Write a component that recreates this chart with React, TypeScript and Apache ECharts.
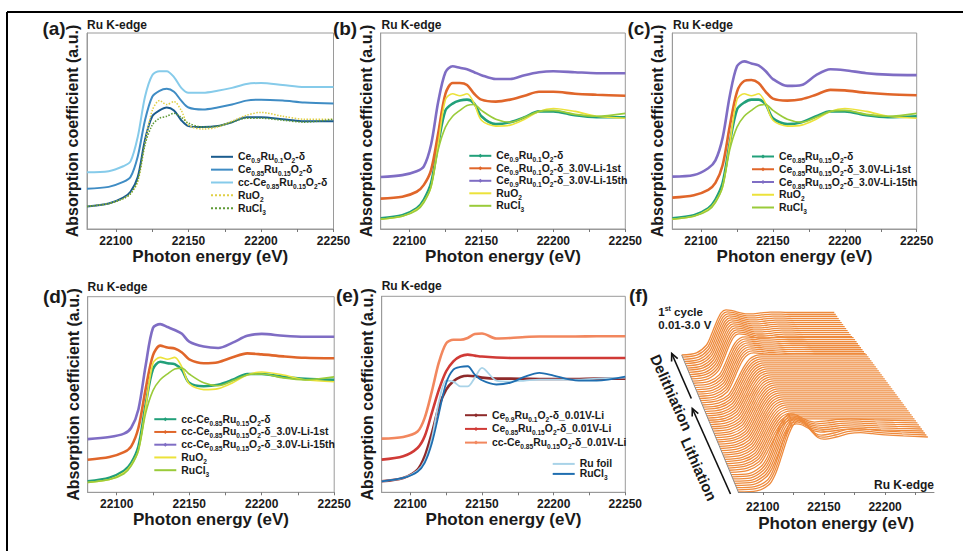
import React, { useEffect, useRef } from "react";
import * as echarts from "echarts";

const FONT = "'Liberation Sans', Arial, Helvetica, sans-serif";
const INK = "#1a1a1a";
const FRAME = "#9a9a9a";

// ---------- shared energy grid (eV) at which the spectra were read ----------
const ENERGY = [22080, 22095, 22105, 22110, 22115, 22120, 22125, 22130, 22135, 22140, 22145, 22150, 22160, 22170, 22180, 22190, 22200, 22215, 22230, 22250];
const X_TICKS = [22100, 22125, 22150, 22175, 22200, 22225, 22250];
const X_LABELS = [22100, 22150, 22200, 22250];

// ---------- (a) ----------
const A_CE09 = [0.23, 0.26, 0.32, 0.38, 0.53, 0.91, 1.15, 1.21, 1.24, 1.21, 1.11, 1.05, 1.04, 1.05, 1.09, 1.14, 1.14, 1.12, 1.10, 1.10];
const A_CE085 = [0.41, 0.43, 0.48, 0.53, 0.74, 1.11, 1.35, 1.41, 1.43, 1.40, 1.31, 1.24, 1.22, 1.24, 1.27, 1.31, 1.32, 1.31, 1.29, 1.28];
const A_CC = [0.58, 0.59, 0.64, 0.69, 0.94, 1.35, 1.57, 1.61, 1.61, 1.55, 1.44, 1.39, 1.39, 1.41, 1.44, 1.48, 1.49, 1.47, 1.45, 1.45];
const A_RUO2 = [0.23, 0.26, 0.31, 0.36, 0.48, 0.87, 1.21, 1.31, 1.27, 1.30, 1.21, 1.06, 1.02, 1.04, 1.10, 1.16, 1.19, 1.15, 1.12, 1.12];
const A_RUCL3 = [0.23, 0.26, 0.31, 0.36, 0.50, 0.86, 1.06, 1.13, 1.15, 1.18, 1.14, 1.08, 1.04, 1.05, 1.09, 1.13, 1.13, 1.11, 1.09, 1.12];

// ---------- references used in (b), (c), (d) ----------
const REF_RUO2 = [0.10, 0.13, 0.20, 0.28, 0.43, 0.87, 1.32, 1.38, 1.36, 1.38, 1.28, 1.11, 1.05, 1.06, 1.12, 1.20, 1.23, 1.20, 1.15, 1.13];
const REF_RUCL3 = [0.10, 0.13, 0.19, 0.27, 0.43, 0.81, 1.04, 1.15, 1.21, 1.26, 1.27, 1.21, 1.12, 1.09, 1.14, 1.20, 1.21, 1.17, 1.15, 1.18];

// ---------- (b) ----------
const B_PRISTINE = [0.11, 0.14, 0.21, 0.30, 0.47, 0.87, 1.21, 1.28, 1.31, 1.32, 1.28, 1.15, 1.07, 1.09, 1.14, 1.20, 1.20, 1.16, 1.14, 1.14];
const B_LI_1ST = [0.31, 0.33, 0.38, 0.45, 0.60, 0.98, 1.38, 1.49, 1.49, 1.47, 1.38, 1.32, 1.30, 1.32, 1.36, 1.40, 1.40, 1.38, 1.37, 1.36];
const B_LI_15TH = [0.53, 0.55, 0.59, 0.64, 0.86, 1.30, 1.60, 1.66, 1.645, 1.63, 1.60, 1.57, 1.53, 1.53, 1.57, 1.60, 1.61, 1.60, 1.59, 1.59];

// ---------- (c) ----------
const C_PRISTINE = [0.11, 0.14, 0.21, 0.30, 0.47, 0.88, 1.22, 1.29, 1.32, 1.32, 1.27, 1.13, 1.07, 1.09, 1.15, 1.20, 1.20, 1.16, 1.14, 1.15];
const C_LI_1ST = [0.32, 0.345, 0.40, 0.47, 0.65, 1.05, 1.40, 1.51, 1.52, 1.49, 1.40, 1.33, 1.31, 1.325, 1.37, 1.42, 1.415, 1.39, 1.375, 1.365];
const C_LI_15TH = [0.534, 0.55, 0.62, 0.70, 0.93, 1.36, 1.66, 1.71, 1.69, 1.67, 1.61, 1.53, 1.46, 1.47, 1.57, 1.63, 1.62, 1.59, 1.575, 1.57];

// ---------- (d) ----------
const D_PRISTINE = [0.112, 0.15, 0.22, 0.30, 0.47, 0.90, 1.26, 1.335, 1.32, 1.31, 1.25, 1.12, 1.085, 1.10, 1.15, 1.21, 1.21, 1.18, 1.16, 1.15];
const D_LI_1ST = [0.333, 0.36, 0.41, 0.47, 0.66, 1.06, 1.40, 1.50, 1.48, 1.47, 1.43, 1.36, 1.32, 1.33, 1.38, 1.42, 1.41, 1.39, 1.375, 1.37];
const D_LI_15TH = [0.544, 0.565, 0.60, 0.66, 0.85, 1.30, 1.68, 1.72, 1.69, 1.66, 1.62, 1.54, 1.49, 1.475, 1.53, 1.60, 1.62, 1.60, 1.59, 1.59];

// ---------- (e) ----------
const E_CE09_LI = [0.112, 0.146, 0.231, 0.367, 0.605, 0.878, 1.048, 1.133, 1.177, 1.19, 1.185, 1.17, 1.16, 1.16, 1.158, 1.156, 1.156, 1.156, 1.16, 1.16];
const E_CE085_LI = [0.333, 0.367, 0.452, 0.571, 0.81, 1.05, 1.235, 1.337, 1.388, 1.405, 1.395, 1.385, 1.375, 1.371, 1.371, 1.371, 1.371, 1.371, 1.371, 1.371];
const E_CC_LI = [0.548, 0.565, 0.62, 0.76, 1.03, 1.33, 1.52, 1.556, 1.556, 1.575, 1.615, 1.62, 1.57, 1.575, 1.585, 1.59, 1.59, 1.59, 1.592, 1.592];
const E_RU_FOIL = [0.112, 0.146, 0.22, 0.32, 0.55, 0.93, 1.14, 1.13, 1.08, 1.08, 1.17, 1.27, 1.14, 1.13, 1.14, 1.15, 1.15, 1.15, 1.16, 1.17];
const E_RUCL3 = [0.112, 0.146, 0.21, 0.30, 0.50, 0.81, 1.116, 1.252, 1.279, 1.286, 1.20, 1.143, 1.10, 1.12, 1.18, 1.218, 1.19, 1.143, 1.14, 1.18];

// ---------- (f) operando waterfall, 1st cycle 0.01-3.0 V ----------
const F_ENERGY = [22080, 22095, 22105, 22110, 22115, 22120, 22125, 22130, 22135, 22140, 22145, 22150, 22160, 22170, 22180, 22190, 22200, 22215, 22235];
const F_PRISTINE = [0, 0.02, 0.13, 0.31, 0.62, 0.97, 1.22, 1.3, 1.23, 1.1, 0.99, 0.96, 1.0, 1.06, 1.08, 1.06, 1.04, 1.02, 1.0];
const F_EARLY_LI = [0, 0.02, 0.15, 0.31, 0.58, 0.87, 1.07, 1.13, 1.11, 1.05, 1.0, 0.98, 1.0, 1.03, 1.04, 1.03, 1.02, 1.01, 1.0];
const F_LITHIATED = [0, 0.04, 0.16, 0.33, 0.55, 0.76, 0.91, 0.98, 1.0, 1.0, 1.0, 1.0, 1.0, 1.0, 1.0, 1.0, 1.0, 1.0, 1.0];
const F_EARLY_DELI = [0, 0.04, 0.18, 0.38, 0.64, 0.86, 0.97, 1.0, 0.99, 0.98, 0.97, 0.97, 0.98, 0.99, 0.99, 0.98, 0.98, 0.98, 0.98];
const F_DELITHIATED = [0, 0.05, 0.22, 0.45, 0.73, 0.95, 1.02, 1.01, 0.98, 0.95, 0.93, 0.93, 0.95, 0.97, 0.97, 0.96, 0.96, 0.96, 0.96];
const F_SEQUENCE: [number[], number][] = [
  [F_PRISTINE, 3],
  [F_EARLY_LI, 6],
  [F_LITHIATED, 33],
  [F_EARLY_DELI, 9],
  [F_DELITHIATED, 13],
];
const F_X_TICKS = [22100, 22125, 22150, 22175, 22200, 22225];
const F_X_LABELS = [22100, 22150, 22200];

// ---------- legend labels (rich text) ----------
const L_CE09 = "{n|Ce}{s|0.9}{n|Ru}{s|0.1}{n|O}{s|2}{n|-δ}";
const L_CE085 = "{n|Ce}{s|0.85}{n|Ru}{s|0.15}{n|O}{s|2}{n|-δ}";
const L_CC = "{n|cc-Ce}{s|0.85}{n|Ru}{s|0.15}{n|O}{s|2}{n|-δ}";
const L_RUO2 = "{n|RuO}{s|2}";
const L_RUCL3 = "{n|RuCl}{s|3}";

type Spec = { id: string; label: string; data: number[]; color: string; width: number; dotted?: boolean; marker?: boolean };

const PANELS: { key: string; left: number; top: number; width: number; height: number; series: Spec[] }[] = [
  {
    key: "a", left: 87, top: 33, width: 246.5, height: 196,
    series: [
      { id: "a1", label: L_CE09, data: A_CE09, color: "#1b5c8e", width: 2 },
      { id: "a2", label: L_CE085, data: A_CE085, color: "#3f8cc4", width: 2 },
      { id: "a3", label: L_CC, data: A_CC, color: "#86cbea", width: 2 },
      { id: "a4", label: L_RUO2, data: A_RUO2, color: "#e0cf45", width: 1.5, dotted: true },
      { id: "a5", label: L_RUCL3, data: A_RUCL3, color: "#5f9a36", width: 1.5, dotted: true },
    ],
  },
  {
    key: "b", left: 380.7, top: 33, width: 244.6, height: 196,
    series: [
      { id: "b1", label: L_CE09, data: B_PRISTINE, color: "#22a07a", width: 2.6, marker: true },
      { id: "b2", label: L_CE09 + "{n|_3.0V-Li-1st}", data: B_LI_1ST, color: "#e0662a", width: 2.6, marker: true },
      { id: "b3", label: L_CE09 + "{n|_3.0V-Li-15th}", data: B_LI_15TH, color: "#7f6dc4", width: 2.6, marker: true },
      { id: "b4", label: L_RUO2, data: REF_RUO2, color: "#ece23a", width: 1.6 },
      { id: "b5", label: L_RUCL3, data: REF_RUCL3, color: "#9acb3a", width: 1.6 },
    ],
  },
  {
    key: "c", left: 672.3, top: 33, width: 244.4, height: 196,
    series: [
      { id: "c1", label: L_CE085, data: C_PRISTINE, color: "#22a07a", width: 2.6, marker: true },
      { id: "c2", label: L_CE085 + "{n|_3.0V-Li-1st}", data: C_LI_1ST, color: "#e0662a", width: 2.6, marker: true },
      { id: "c3", label: L_CE085 + "{n|_3.0V-Li-15th}", data: C_LI_15TH, color: "#7f6dc4", width: 2.6, marker: true },
      { id: "c4", label: L_RUO2, data: REF_RUO2, color: "#ece23a", width: 1.6 },
      { id: "c5", label: L_RUCL3, data: REF_RUCL3, color: "#9acb3a", width: 1.6 },
    ],
  },
  {
    key: "d", left: 87.7, top: 296.7, width: 246.5, height: 195.6,
    series: [
      { id: "d1", label: L_CC, data: D_PRISTINE, color: "#22a07a", width: 2.6, marker: true },
      { id: "d2", label: L_CC + "{n|_3.0V-Li-1st}", data: D_LI_1ST, color: "#e0662a", width: 2.6, marker: true },
      { id: "d3", label: L_CC + "{n|_3.0V-Li-15th}", data: D_LI_15TH, color: "#7f6dc4", width: 2.6, marker: true },
      { id: "d4", label: L_RUO2, data: REF_RUO2, color: "#ece23a", width: 1.6 },
      { id: "d5", label: L_RUCL3, data: REF_RUCL3, color: "#9acb3a", width: 1.6 },
    ],
  },
  {
    key: "e", left: 381.7, top: 296.3, width: 243.6, height: 196,
    series: [
      { id: "e1", label: L_CE09 + "{n|_0.01V-Li}", data: E_CE09_LI, color: "#8e2a2a", width: 2.6, marker: true },
      { id: "e2", label: L_CE085 + "{n|_0.01V-Li}", data: E_CE085_LI, color: "#d03a36", width: 2.6, marker: true },
      { id: "e3", label: L_CC + "{n|_0.01V-Li}", data: E_CC_LI, color: "#f2875e", width: 2.6, marker: true },
      { id: "e4", label: "{n|Ru foil}", data: E_RU_FOIL, color: "#a9d3e8", width: 1.8 },
      { id: "e5", label: L_RUCL3, data: E_RUCL3, color: "#1f6eb0", width: 1.8 },
    ],
  },
];

// legend placements: ids, left, first row centre y, row spacing, line height
const LEGENDS: [string[], number, number, number, number][] = [
  [["a1", "a2", "a3", "a4", "a5"], 210, 159.3, 15.35, 15],
  [["b1", "b2", "b3", "b4", "b5"], 468.3, 158.3, 15, 15],
  [["c1", "c2", "c3", "c4", "c5"], 751, 159, 15.25, 15],
  [["d1", "d2", "d3", "d4", "d5"], 153.3, 421.7, 15.25, 15],
  [["e1", "e2", "e3"], 464, 417.7, 16.2, 15],
  [["e4", "e5"], 551.7, 465.7, 13.6, 13.6],
];

function rich(lh: number) {
  return {
    n: { fontSize: 10.4, fontWeight: "bold", fontFamily: FONT, color: INK, lineHeight: lh, verticalAlign: "middle" },
    s: { fontSize: 6.6, fontWeight: "bold", fontFamily: FONT, color: INK, lineHeight: 9, verticalAlign: "bottom" },
  };
}

const plain = (v: number) => String(v);

function buildOption() {
  const grids: any[] = [];
  const xAxes: any[] = [];
  const yAxes: any[] = [];
  const series: any[] = [];
  const labelOf: Record<string, string> = {};
  const markerOf: Record<string, boolean> = {};

  PANELS.forEach((p, gi) => {
    grids.push({ left: p.left, top: p.top, width: p.width, height: p.height, show: true, borderColor: FRAME, borderWidth: 1, backgroundColor: "transparent" });
    xAxes.push({
      type: "value", gridIndex: gi, min: 22080, max: 22250,
      axisLine: { show: true, lineStyle: { color: FRAME, width: 1 } },
      axisTick: { show: true, inside: false, length: 3, customValues: X_TICKS, lineStyle: { color: "#777" } },
      axisLabel: { customValues: X_LABELS, formatter: plain, margin: 6, fontSize: 12, fontWeight: "bold", fontFamily: FONT, color: INK },
      splitLine: { show: false },
      name: "Photon energy (eV)", nameLocation: "middle", nameGap: 17.5,
      nameTextStyle: { fontSize: 17, fontWeight: "bold", fontFamily: FONT, color: INK },
    });
    yAxes.push({
      type: "value", gridIndex: gi, min: 0, max: 2,
      axisLine: { show: true, lineStyle: { color: FRAME, width: 1 } },
      axisTick: { show: false }, axisLabel: { show: false }, splitLine: { show: false },
      name: "Absorption coefficient (a.u.)", nameLocation: "middle", nameGap: 6.5,
      nameTextStyle: { fontSize: 16, fontWeight: "bold", fontFamily: FONT, color: INK },
    });
    p.series.forEach((s) => {
      labelOf[s.id] = s.label;
      markerOf[s.id] = !!s.marker;
      series.push({
        type: "line", name: s.id, xAxisIndex: gi, yAxisIndex: gi,
        data: ENERGY.map((e, i) => [e, s.data[i]]),
        smooth: 0.3, showSymbol: false,
        symbol: s.marker ? "diamond" : "none",
        lineStyle: { color: s.color, width: s.width, type: s.dotted ? "dotted" : "solid" },
        itemStyle: { color: s.color },
      });
    });
  });

  // ---- (f): projection grid in page pixels (y measured upward from the front baseline) ----
  const FRONT_X0 = 738.3, BACK_X0 = 681.7, FRONT_BASE = 492, BACK_BASE = 355;
  const PX_PER_EV = 1.223, BACK_SCALE = 0.805, STEP_PX = 55;
  const fGi = grids.length;
  grids.push({ left: 0, top: 0, width: 963, height: FRONT_BASE, show: false });
  xAxes.push({ type: "value", gridIndex: fGi, min: 0, max: 963, show: false });
  yAxes.push({ type: "value", gridIndex: fGi, min: 0, max: FRONT_BASE, show: false });
  const traces: number[][] = [];
  F_SEQUENCE.forEach(([spec, count]) => { for (let i = 0; i < count; i++) traces.push(spec); });
  const N = traces.length;
  for (let k = N - 1; k >= 0; k--) {
    const t = k / (N - 1);
    const sc = 1 - (1 - BACK_SCALE) * t;
    const x0 = FRONT_X0 + (BACK_X0 - FRONT_X0) * t;
    const base = (FRONT_BASE - BACK_BASE) * t;
    series.push({
      type: "line", name: "f" + k, xAxisIndex: fGi, yAxisIndex: fGi,
      data: F_ENERGY.map((e, i) => [x0 + (e - F_ENERGY[0]) * PX_PER_EV * sc, base + traces[k][i] * STEP_PX * sc]),
      smooth: 0.3, showSymbol: false, symbol: "none",
      lineStyle: { color: "#ee8a3c", width: 1.3 },
      areaStyle: { color: "#ffffff", opacity: 1, origin: "start" },
      z: 2,
    });
  }
  // (f) visible energy axis
  const fAx = grids.length;
  grids.push({ left: FRONT_X0, top: 440, width: 934 - FRONT_X0, height: FRONT_BASE - 440, show: false });
  xAxes.push({
    type: "value", gridIndex: fAx, min: 22080, max: 22240, z: 20,
    axisLine: { show: true, lineStyle: { color: "#888", width: 1 } },
    axisTick: { show: true, length: 3, customValues: F_X_TICKS, lineStyle: { color: "#777" } },
    axisLabel: { customValues: F_X_LABELS, formatter: plain, margin: 8.5, fontSize: 12, fontWeight: "bold", fontFamily: FONT, color: INK },
    splitLine: { show: false },
    name: "Photon energy (eV)", nameLocation: "middle", nameGap: 22.5,
    nameTextStyle: { fontSize: 17, fontWeight: "bold", fontFamily: FONT, color: INK },
  });
  yAxes.push({ type: "value", gridIndex: fAx, min: 0, max: 1, show: false });

  const legends = LEGENDS.map(([ids, left, y0, spacing, lh]) => ({
    data: ids.map((id) => (markerOf[id] ? { name: id } : { name: id, itemStyle: { opacity: 0 } })),
    orient: "vertical", left, top: y0 - lh / 2, itemWidth: 22, itemHeight: 5, itemGap: spacing - lh,
    padding: 0, selectedMode: false,
    formatter: (n: string) => labelOf[n],
    textStyle: { fontSize: 10.4, fontWeight: "bold", fontFamily: FONT, color: INK, rich: rich(lh) },
  }));

  const txt = (text: string, x: number, y: number, size: number, align = "left", extra: any = {}) => ({
    type: "text", x, y, z: 100,
    style: { text, fontSize: size, fontWeight: "bold", fontFamily: FONT, fill: INK, align, verticalAlign: "middle", ...extra },
  });
  const ROT = -1.15;
  const graphic: any[] = [
    { type: "line", z: 100, shape: { x1: 7, y1: 12, x2: 963, y2: 12 }, style: { stroke: "#000", lineWidth: 2 } },
    { type: "line", z: 100, shape: { x1: 7, y1: 12, x2: 7, y2: 551 }, style: { stroke: "#000", lineWidth: 2 } },
    txt("(a)", 54, 28, 19, "center"),
    txt("(b)", 345, 28, 19, "center"),
    txt("(c)", 639, 28, 19, "center"),
    txt("(d)", 55, 296.5, 19, "center"),
    txt("(e)", 347.5, 295, 19, "center"),
    txt("(f)", 638.5, 295.5, 19, "center"),
    txt("Ru K-edge", 87, 25.3, 12),
    txt("Ru K-edge", 381.5, 25, 12),
    txt("Ru K-edge", 673, 25, 12),
    txt("Ru K-edge", 87.5, 287, 12),
    txt("Ru K-edge", 381.7, 286, 12),
    txt("Ru K-edge", 934, 485, 12, "right"),
    {
      type: "text", x: 658.3, y: 311.7, z: 100,
      style: {
        text: "{n|1}{p|st}{n| cycle}", verticalAlign: "middle", align: "left",
        rich: {
          n: { fontSize: 11.5, fontWeight: "bold", fontFamily: FONT, fill: INK, color: INK, lineHeight: 14, verticalAlign: "middle" },
          p: { fontSize: 7, fontWeight: "bold", fontFamily: FONT, fill: INK, color: INK, lineHeight: 9, verticalAlign: "top" },
        },
      },
    },
    txt("0.01-3.0 V", 658.3, 325, 11.5),
    // depth axis of the waterfall
    { type: "line", z: 100, shape: { x1: FRONT_X0, y1: FRONT_BASE, x2: BACK_X0, y2: BACK_BASE }, style: { stroke: "#8a8a8a", lineWidth: 1 } },
    // Lithiation arrow
    { type: "line", z: 100, shape: { x1: 730.5, y1: 494, x2: 692.3, y2: 408.5 }, style: { stroke: "#111", lineWidth: 1.6 } },
    { type: "polyline", z: 100, shape: { points: [[692.2, 416.5], [692.3, 408.5], [698.3, 413.7]] }, style: { stroke: "#111", lineWidth: 1.6, fill: "none" } },
    // Delithiation arrow
    { type: "line", z: 100, shape: { x1: 691.3, y1: 398.5, x2: 671.7, y2: 353.5 }, style: { stroke: "#111", lineWidth: 1.6 } },
    { type: "polyline", z: 100, shape: { points: [[671.6, 361.5], [671.7, 353.5], [677.7, 358.7]] }, style: { stroke: "#111", lineWidth: 1.6, fill: "none" } },
    { type: "text", x: 699, y: 469, rotation: ROT, z: 100, style: { text: "Lithiation", fontSize: 15, fontWeight: "bold", fontFamily: FONT, fill: INK, align: "center", verticalAlign: "middle" } },
    { type: "text", x: 671.5, y: 392.5, rotation: ROT, z: 100, style: { text: "Delithiation", fontSize: 15, fontWeight: "bold", fontFamily: FONT, fill: INK, align: "center", verticalAlign: "middle" } },
  ];

  return {
    animation: false,
    backgroundColor: "#ffffff",
    textStyle: { fontFamily: FONT },
    grid: grids,
    xAxis: xAxes,
    yAxis: yAxes,
    legend: legends,
    series,
    graphic,
  };
}

export default function App() {
  const ref = useRef<HTMLDivElement>(null);
  useEffect(() => {
    if (!ref.current) return;
    const chart = echarts.init(ref.current, null, { renderer: "svg" });
    chart.setOption(buildOption() as any);
    return () => chart.dispose();
  }, []);
  return (
    <div
      ref={ref}
      style={{ position: "fixed", left: 0, top: 0, width: 963, height: 551, background: "#fff" }}
    />
  );
}
